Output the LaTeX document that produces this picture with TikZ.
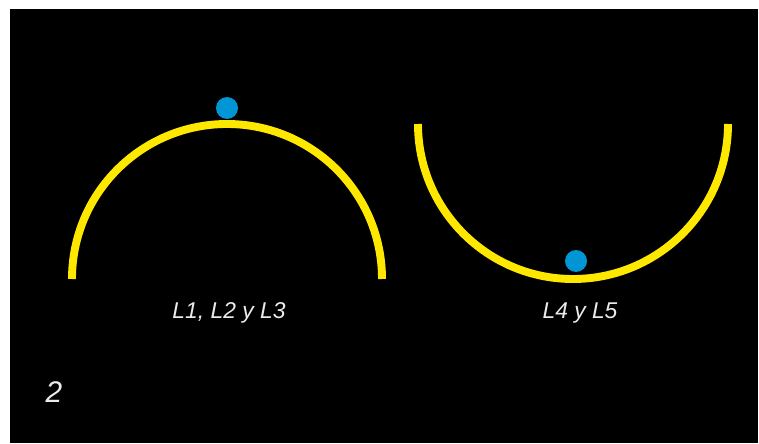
\documentclass[tikz,border=0pt]{standalone}
\usepackage{fontspec}
\setmainfont{Liberation Sans}
\usepackage{tikz}
\usetikzlibrary{positioning}

\definecolor{trackyellow}{RGB}{255,232,0}
\definecolor{ballblue}{RGB}{0,150,214}
\definecolor{labelgrey}{RGB}{235,235,235}

\begin{document}
\begin{tikzpicture}[x=0.02cm, y=0.02cm]

    % Define styles for the nodes
    \tikzstyle{track} = [line width=4.5pt, draw=trackyellow]
    \tikzstyle{ball} = [
        circle, fill=ballblue, inner sep=0pt, minimum size=0.44cm
    ]
    \tikzstyle{caption} = [
        text=labelgrey, font=\fontsize{13}{15}\selectfont\itshape
    ]

    % Background
    \useasboundingbox (0,0) rectangle (759,443);
    \fill[white] (0,0) rectangle (759,443);
    \fill[black] (10,0) rectangle (758,434);

    % Tracks
    \coordinate (hilltop) at (227,164);
    \coordinate (valley) at (573,319);
    \draw [track] (72,164) arc[start angle=180, end angle=0, radius=155];
    \draw [track] (418,319) arc[start angle=180, end angle=360, radius=155];

    % Balls
    \node (ballhill) [ball] at (227,335) {};
    \node (ballvalley) [ball] at (576,182) {};

    % Labels
    \node (hilllabel) [caption] at (229,130) {L1, L2 y L3};
    \node (valleylabel) [caption] at (580,130) {L4 y L5};
    \node (number) [caption, font=\fontsize{17}{19}\selectfont\itshape] at (54,51) {2};

\end{tikzpicture}
\end{document}
